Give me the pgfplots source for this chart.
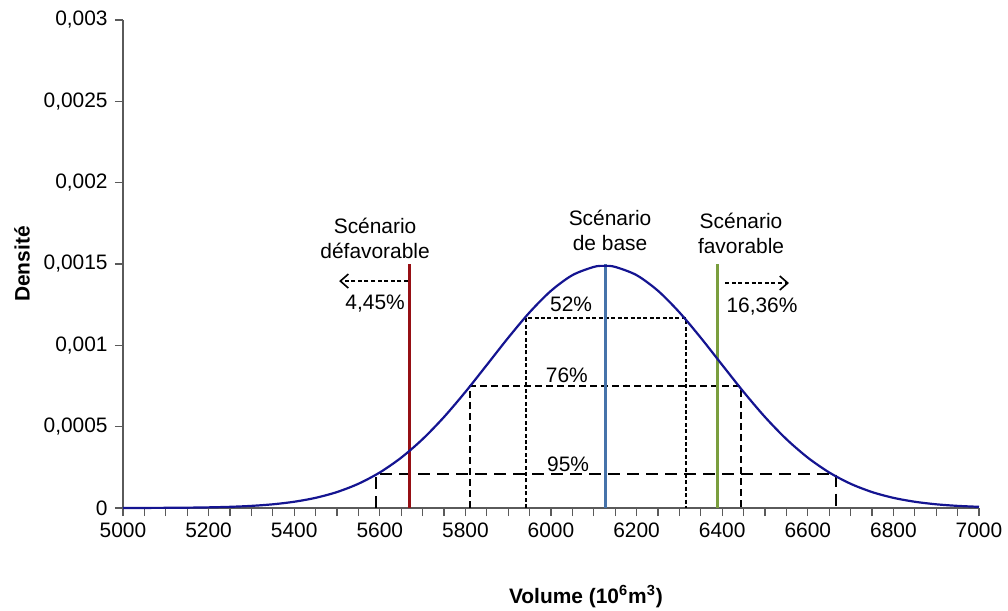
\documentclass[border=0pt]{standalone}
\usepackage{pgfplots}
\pgfplotsset{compat=1.18}
\usepackage{fontspec}
\setmainfont{Liberation Sans}
\usetikzlibrary{arrows.meta}
\definecolor{curve}{RGB}{20,20,145}
\definecolor{defav}{RGB}{150,15,20}
\definecolor{base}{RGB}{70,115,170}
\definecolor{fav}{RGB}{122,158,62}
\definecolor{axgray}{RGB}{90,90,90}
\begin{document}
\begin{tikzpicture}
\fontsize{10.5}{12.6}\selectfont
\begin{axis}[
  scale only axis,
  width=428bp, height=244bp,
  xmin=5000, xmax=7000, ymin=0, ymax=0.003,
  axis lines=left,
  axis line style={-, draw=axgray, line width=0.6bp},
  every tick/.style={draw=axgray, line width=0.6bp},
  tick align=outside,
  major tick length=4bp, minor tick length=4bp,
  xtick={5000,5200,5400,5600,5800,6000,6200,6400,6600,6800,7000},
  xticklabels={5000,5200,5400,5600,5800,6000,6200,6400,6600,6800,7000},
  minor x tick num=3,
  ytick={0,0.0005,0.001,0.0015,0.002,0.0025,0.003},
  yticklabels={0,{0,0005},{0,001},{0,0015},{0,002},{0,0025},{0,003}},
  scaled y ticks=false,
  tick label style={font=\fontsize{10.5}{12.6}\selectfont},
  every axis y label/.style={at={(axis description cs:0,0.5)}, rotate=90, anchor=center, yshift=50.5bp},
  every axis x label/.style={at={(axis description cs:0.5,0)}, anchor=center, xshift=17.5bp, yshift=-44.5bp},
  ylabel={\bfseries Densité},
  xlabel={\bfseries Volume (10\textsuperscript{6}m\textsuperscript{3})},
  label style={font=\fontsize{10.5}{12.6}\selectfont},
  clip=false,
]
% 95% interval
\addplot[black, line width=0.9bp, dash pattern=on 6bp off 3.5bp] coordinates {(5591,0) (5591,0.000207) (6666,0.000207) (6666,0)};
% 76% interval
\addplot[black, line width=0.9bp, dash pattern=on 3.5bp off 2bp] coordinates {(5811,0) (5811,0.000748) (6443,0.000748) (6443,0)};
% 52% interval
\addplot[black, line width=0.9bp, dash pattern=on 2bp off 1.2bp] coordinates {(5942,0) (5942,0.001168) (6315,0.001168) (6315,0)};
% scenario lines
\addplot[defav, line width=1.5bp] coordinates {(5670,0) (5670,0.0015)};
\addplot[base, line width=1.5bp] coordinates {(6128,0) (6128,0.0015)};
\addplot[fav, line width=1.5bp] coordinates {(6390,0) (6390,0.0015)};
% arrows
\addplot[black, line width=0.8bp, dash pattern=on 2bp off 1.3bp, -{Straight Barb[length=4bp,width=7bp]}] coordinates {(5666,0.001395) (5505,0.001395)};
\addplot[black, line width=0.8bp, dash pattern=on 2bp off 1.3bp, -{Straight Barb[length=4bp,width=7bp]}] coordinates {(6407,0.001383) (6556,0.001383)};
% density curve
\addplot[curve, line width=1.1bp, smooth] coordinates {
(5000,0.00000022) (5050,0.00000048) (5100,0.00000099) (5150,0.0000020) (5200,0.0000039) (5250,0.0000072)
(5300,0.0000130) (5350,0.0000227) (5400,0.0000384) (5450,0.0000624) (5500,0.0000981)
(5550,0.0001490) (5600,0.0002185) (5650,0.0003095) (5700,0.0004233) (5750,0.0005592)
(5800,0.0007136) (5850,0.0008793) (5900,0.0010464) (5950,0.0012028) (6000,0.0013352)
(6050,0.0014314) (6100,0.0014821) (6125,0.0014886) (6150,0.0014821) (6200,0.0014314)
(6250,0.0013352) (6300,0.0012028) (6350,0.0010464) (6400,0.0008793) (6450,0.0007136)
(6500,0.0005592) (6550,0.0004233) (6600,0.0003095) (6650,0.0002185) (6700,0.0001490)
(6750,0.0000981) (6800,0.0000624) (6850,0.0000384) (6900,0.0000227) (6950,0.0000130) (7000,0.0000072)
};
% texts
\node[align=center, inner sep=0pt] at (axis cs:5589,0.001657) {Scénario\\défavorable};
\node[align=center, inner sep=0pt] at (axis cs:6138,0.001706) {Scénario\\de base};
\node[align=center, inner sep=0pt] at (axis cs:6444,0.00169) {Scénario\\favorable};
\node[inner sep=0pt] at (axis cs:5589,0.001254) {4,45\%};
\node[inner sep=0pt] at (axis cs:6493,0.001236) {16,36\%};
\node[inner sep=0pt] at (axis cs:6047,0.001254) {52\%};
\node[inner sep=0pt] at (axis cs:6037,0.000818) {76\%};
\node[inner sep=0pt] at (axis cs:6040,0.00027) {95\%};
\end{axis}
\pgfresetboundingbox
\path (-61.5bp,-51.5bp) rectangle (442.5bp,254bp);
\end{tikzpicture}
\end{document}
